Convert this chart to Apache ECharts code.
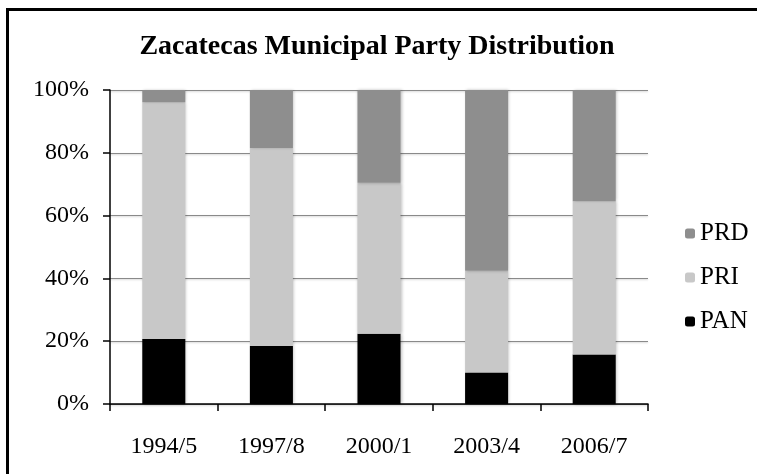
<!DOCTYPE html>
<html>
<head>
    <meta charset="utf-8">
    <title>Zacatecas Municipal Party Distribution</title>
    <style>
        body{
            margin: 0;
            padding: 0;
        }
        #container{
            width: 757px;
            height: 474px;
        }
    </style>
</head>
<body>
    <div id="container"></div>
    <script src="https://cdn.jsdelivr.net/npm/echarts@6/dist/echarts.min.js"></script>
    <script type="text/javascript">
    // 数据 (share of municipalities, %)
    var periods = ['1994/5', '1997/8', '2000/1', '2003/4', '2006/7'];
    var pan = [20.7, 18.5, 22.4, 10.0, 15.8];
    var pri = [75.4, 63.0, 48.1, 32.4, 48.8];
    var prd = [3.9, 18.5, 29.5, 57.6, 35.4];
    var yTicks = [0, 20, 40, 60, 80, 100];

    var serif = '"Liberation Serif", "Times New Roman", serif';

    var dom = document.getElementById('container');
    var myChart = echarts.init(dom);

    function barSeries(name, data, color) {
        return {
            name: name,
            type: 'bar',
            stack: 'total',
            barWidth: '40%',
            data: data,
            itemStyle: {
                color: color,
                shadowColor: 'rgba(0,0,0,0.25)',
                shadowBlur: 3,
                shadowOffsetX: 1
            },
            animation: false
        };
    }

    var option = {
        backgroundColor: '#fff',
        title: {
            text: 'Zacatecas Municipal Party Distribution',
            left: 372,
            top: 28,
            textAlign: 'center',
            textStyle: {
                fontFamily: serif,
                fontWeight: 'bold',
                fontSize: 28,
                color: '#000'
            }
        },
        legend: {
            orient: 'vertical',
            left: 685,
            top: 221,
            padding: 0,
            itemWidth: 10,
            itemHeight: 10,
            itemGap: 19,
            data: ['PRD', 'PRI', 'PAN'],
            textStyle: {
                fontFamily: serif,
                fontSize: 25,
                color: '#000'
            }
        },
        grid: {
            left: 110,
            right: 109,
            top: 90,
            bottom: 70
        },
        xAxis: {
            type: 'category',
            data: periods,
            axisLine: { lineStyle: { color: '#000', width: 1.5 } },
            axisTick: { show: true, length: 7, inside: false, lineStyle: { color: '#000', width: 1.5 } },
            axisLabel: {
                fontFamily: serif,
                fontSize: 24,
                color: '#000',
                margin: 31
            }
        },
        yAxis: {
            type: 'value',
            min: yTicks[0],
            max: yTicks[yTicks.length - 1],
            interval: 20,
            axisLine: { show: true, lineStyle: { color: '#000', width: 1.5 } },
            axisTick: { show: true, length: 7, lineStyle: { color: '#000', width: 1.5 } },
            splitLine: {
                lineStyle: {
                    color: '#8a8a8a',
                    width: 1.2,
                    shadowColor: 'rgba(0,0,0,0.2)',
                    shadowBlur: 2,
                    shadowOffsetY: 1
                }
            },
            axisLabel: {
                fontFamily: serif,
                fontSize: 24,
                color: '#000',
                margin: 21,
                formatter: '{value}%'
            }
        },
        series: [
            barSeries('PAN', pan, '#000000'),
            barSeries('PRI', pri, '#c8c8c8'),
            barSeries('PRD', prd, '#8e8e8e')
        ],
        graphic: [{
            type: 'rect',
            left: 5,
            top: 7,
            shape: { width: 800, height: 520 },
            style: { fill: null, stroke: '#000', lineWidth: 3 },
            silent: true,
            z: 100
        }]
    };

    myChart.setOption(option, true);
    </script>
</body>
</html>
